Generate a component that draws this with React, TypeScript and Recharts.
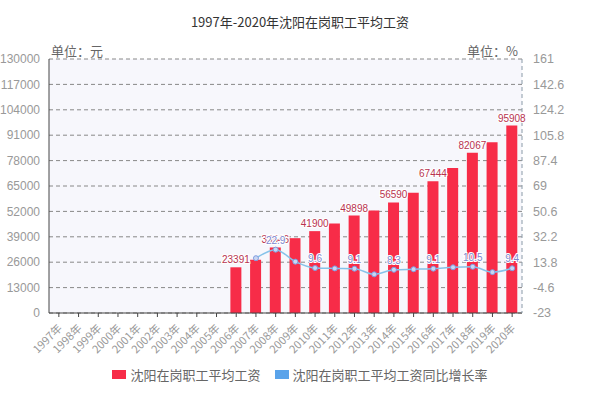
import React from 'react';
import {
  ComposedChart, Bar, Line, XAxis, YAxis, CartesianGrid, LabelList, Legend,
} from 'recharts';

const years = [
  '1997年', '1998年', '1999年', '2000年', '2001年', '2002年', '2003年', '2004年',
  '2005年', '2006年', '2007年', '2008年', '2009年', '2010年', '2011年', '2012年',
  '2013年', '2014年', '2015年', '2016年', '2017年', '2018年', '2019年', '2020年',
];
const wages = [
  null, null, null, null, null, null, null, null,
  null, 23391, 27300, 33546, 38300, 41900, 45800, 49898,
  52400, 56590, 61500, 67444, 74250, 82067, 87450, 95908,
];
const growth = [
  null, null, null, null, null, null, null, null,
  null, null, 16.7, 22.9, 14.2, 9.6, 9.3, 9.1,
  5.0, 8.3, 8.7, 9.1, 10.1, 10.5, 6.6, 9.4,
];
const wageTicks = [0, 13000, 26000, 39000, 52000, 65000, 78000, 91000, 104000, 117000, 130000];
const rateTicks = [-23, -4.6, 13.8, 32.2, 50.6, 69, 87.4, 105.8, 124.2, 142.6, 161];

const data = years.map((y, i) => ({ year: y, wage: wages[i], rate: growth[i] }));

const FONT = '"Noto Sans CJK SC", "Liberation Sans", sans-serif';
const NUM = '"Liberation Sans", Arial, sans-serif';
const BAR = '#f72c48';
const LINE = '#86c3ea';

// only every other year gets a label (2006, 2008, ... / 2008, 2010, ...)
const everyOther = (series: (number | null)[], color: string, dy: number) => (props: any) => {
  const { x, y, width, value } = props;
  if (value == null) return null;
  const yi = series.indexOf(value);
  if (yi % 2 !== 1) return null;
  const cx = width != null ? x + width / 2 : x;
  return (
    <text x={cx} y={y + dy} textAnchor="middle" fontSize={10} fill={color}
      fontFamily={NUM} stroke="#fff" strokeWidth={2} paintOrder="stroke">
      {value}
    </text>
  );
};

const YearTick = (props: any) => {
  const { x, y, payload } = props;
  return (
    <text x={x + 4} y={y + 10} textAnchor="end" fontSize={11} fill="#999"
      fontFamily={FONT} transform={`rotate(-45 ${x + 4} ${y + 10})`}>
      {payload.value}
    </text>
  );
};

const LegendBox = () => (
  <div style={{ display: 'flex', justifyContent: 'center', fontSize: 13, color: '#666', fontFamily: FONT }}>
    <span style={{ display: 'flex', alignItems: 'center', marginRight: 14 }}>
      <span style={{ width: 14, height: 9, background: BAR, marginRight: 4 }} />沈阳在岗职工平均工资
    </span>
    <span style={{ display: 'flex', alignItems: 'center' }}>
      <span style={{ width: 14, height: 9, background: '#5aa3ea', marginRight: 4 }} />沈阳在岗职工平均工资同比增长率
    </span>
  </div>
);

export default function App() {
  return (
    <div style={{ position: 'absolute', left: 0, top: 0, width: 600, height: 399, background: '#fff' }}>
      <div style={{ position: 'absolute', top: 12, width: 600, textAlign: 'center', fontSize: 13, color: '#333', fontFamily: FONT }}>
        1997年-2020年沈阳在岗职工平均工资
      </div>
      <div style={{ position: 'absolute', top: 41, left: 51, fontSize: 13, color: '#666', fontFamily: FONT }}>单位：元</div>
      <div style={{ position: 'absolute', top: 41, left: 467, fontSize: 13, color: '#666', fontFamily: FONT }}>单位：%</div>
      <ComposedChart width={600} height={399} data={data}
        margin={{ top: 59, right: 0, left: 0, bottom: 12 }}>
        <CartesianGrid yAxisId="l" vertical={false} fill="#f7f7fc" stroke="#888" strokeDasharray="4 3" />
        <XAxis dataKey="year" interval={0} height={52} tick={<YearTick />} tickSize={4}
          axisLine={{ stroke: '#444' }} tickLine={{ stroke: '#444' }} />
        <YAxis yAxisId="l" domain={[0, 130000]} ticks={wageTicks} width={49}
          tickLine={false} axisLine={{ stroke: '#444' }} tickMargin={3}
          tick={{ fontSize: 12, fill: '#999', fontFamily: NUM }} />
        <YAxis yAxisId="r" orientation="right" domain={[-23, 161]} ticks={rateTicks} width={78}
          tickLine={false} axisLine={{ stroke: '#8a9aa8', strokeDasharray: '4 3' }} tickMargin={5}
          tick={{ fontSize: 12.5, fill: '#999', fontFamily: NUM, textAnchor: 'start' }} />
        <Bar yAxisId="l" dataKey="wage" fill={BAR} barSize={11} isAnimationActive={false}>
          <LabelList dataKey="wage" content={everyOther(wages, '#b8334f', -4)} />
        </Bar>
        <Line yAxisId="r" dataKey="rate" type="monotone" stroke={LINE} strokeWidth={1.5}
          dot={{ r: 2.5, fill: '#c9d6f2', stroke: '#7f9be0', strokeWidth: 1 }} isAnimationActive={false}>
          <LabelList dataKey="rate" content={everyOther(growth, '#7d86d0', -6)} />
        </Line>
        <Legend content={<LegendBox />} verticalAlign="bottom" height={22} />
      </ComposedChart>
    </div>
  );
}
